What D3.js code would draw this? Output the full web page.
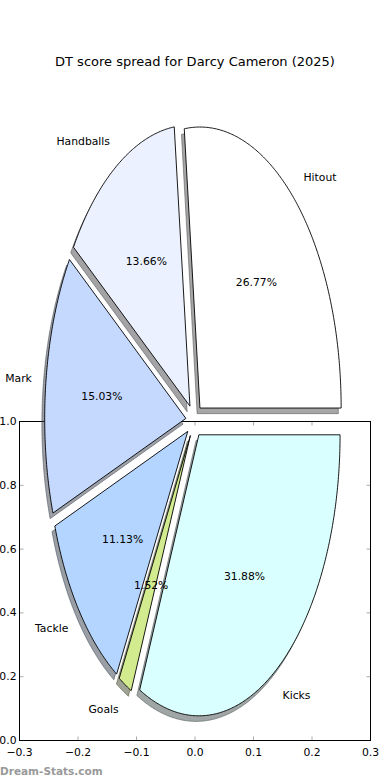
<!DOCTYPE html>
<html>
<head>
<meta charset="utf-8">
<script src="https://cdn.jsdelivr.net/npm/d3@7"></script>
<style>
  body { margin: 0; background: #fff; }
  text { font-family: "DejaVu Sans", sans-serif; }
</style>
</head>
<body>
<div id="box"></div>
<script>
// chart data
var categories = ["Hitout", "Handballs", "Mark", "Tackle", "Goals", "Kicks"];
var shares = [26.77, 13.66, 15.03, 11.13, 1.52, 31.88];
var colours = ["#ffffff", "#ebf1ff", "#c5d9ff", "#b4d5ff", "#d1eb8e", "#daffff"];
var xTicks = [-0.3, -0.2, -0.1, 0.0, 0.1, 0.2, 0.3];
var yTicks = [0.0, 0.2, 0.4, 0.6, 0.8, 1.0];

var W = 390, H = 780;
var svg = d3.select("#box").append("svg")
    .attr("width", W)
    .attr("height", H);

// the (empty) cartesian axes that sit behind the pie
var x = d3.scaleLinear().domain([-0.3, 0.3]).range([19.5, 370.5]);
var y = d3.scaleLinear().domain([0, 1]).range([740.5, 421.5]);

var ax = svg.append("g");
var tickCol = "#aaa";
xTicks.forEach(function(t) {
    ax.append("line").attr("x1", x(t)).attr("x2", x(t)).attr("y1", y(0)).attr("y2", y(0) - 4)
        .attr("stroke", tickCol);
    ax.append("line").attr("x1", x(t)).attr("x2", x(t)).attr("y1", y(1)).attr("y2", y(1) + 4)
        .attr("stroke", tickCol);
    ax.append("text").attr("x", x(t)).attr("y", y(0) + 12)
        .attr("text-anchor", "middle").attr("dominant-baseline", "central")
        .attr("font-size", 10.8).attr("fill", "#000")
        .text(d3.format(".1f")(t).replace("-", "\u2212"));
});
yTicks.forEach(function(t) {
    ax.append("line").attr("x1", x(-0.3)).attr("x2", x(-0.3) + 4).attr("y1", y(t)).attr("y2", y(t))
        .attr("stroke", tickCol);
    ax.append("line").attr("x1", x(0.3)).attr("x2", x(0.3) - 4).attr("y1", y(t)).attr("y2", y(t))
        .attr("stroke", tickCol);
    ax.append("text").attr("x", x(-0.3) - 3).attr("y", y(t))
        .attr("text-anchor", "end").attr("dominant-baseline", "central")
        .attr("font-size", 10.8).attr("fill", "#000")
        .text(d3.format(".1f")(t));
});
ax.append("rect")
    .attr("x", x(-0.3)).attr("y", y(1))
    .attr("width", x(0.3) - x(-0.3)).attr("height", y(0) - y(1))
    .attr("fill", "none").attr("stroke", "#000").attr("stroke-width", 1);

// pie, drawn in its own unit coordinates (stretched like the original)
var cx = 194.3, cy = 420.6, rx = 141.2, ry = 281;
var px = d3.scaleLinear().domain([-1, 1]).range([cx - rx, cx + rx]);
var py = d3.scaleLinear().domain([-1, 1]).range([cy + ry, cy - ry]);
var explode = 0.06;
var shadowOff = [-0.02, -0.02];

var total = d3.sum(shares);
var arcs = d3.pie().sort(null).startAngle(0).endAngle(2 * Math.PI)(shares);

var wedges = arcs.map(function(a, i) {
    var t0 = a.startAngle, t1 = a.endAngle, mid = (t0 + t1) / 2;
    var c = [explode * Math.cos(mid), explode * Math.sin(mid)];
    var pts = [c];
    var n = Math.max(4, Math.ceil((t1 - t0) / 0.01));
    for (var k = 0; k <= n; k++) {
        var t = t0 + (t1 - t0) * k / n;
        pts.push([c[0] + Math.cos(t), c[1] + Math.sin(t)]);
    }
    return { name: categories[i], value: shares[i], colour: colours[i], mid: mid, c: c, pts: pts };
});

var line = d3.line()
    .x(function(d) { return px(d[0]); })
    .y(function(d) { return py(d[1]); });

var shadowLine = d3.line()
    .x(function(d) { return px(d[0] + shadowOff[0]); })
    .y(function(d) { return py(d[1] + shadowOff[1]); });

function darker(col) {
    var c = d3.rgb(col);
    return d3.rgb(c.r * 0.3, c.g * 0.3, c.b * 0.3).toString();
}

// shadows underneath every wedge
svg.append("g").selectAll("path")
    .data(wedges)
    .enter()
    .append("path")
    .attr("d", function(d) { return shadowLine(d.pts) + "Z"; })
    .attr("fill", function(d) { return darker(d.colour); })
    .attr("fill-opacity", 0.5)
    .attr("stroke", function(d) { return darker(d.colour); })
    .attr("stroke-opacity", 0.5)
    .attr("stroke-width", 1);

svg.append("g").selectAll("path")
    .data(wedges)
    .enter()
    .append("path")
    .attr("d", function(d) { return line(d.pts) + "Z"; })
    .attr("fill", function(d) { return d.colour; })
    .attr("stroke", "#000")
    .attr("stroke-width", 0.9)
    .attr("stroke-linejoin", "miter");

// category labels
svg.append("g").selectAll("text")
    .data(wedges)
    .enter()
    .append("text")
    .attr("x", function(d) { return px(d.c[0] + 1.1 * Math.cos(d.mid)); })
    .attr("y", function(d) { return py(d.c[1] + 1.1 * Math.sin(d.mid)); })
    .attr("text-anchor", function(d) { return Math.cos(d.mid) > 0 ? "start" : "end"; })
    .attr("dominant-baseline", "central")
    .attr("font-size", 10.8)
    .attr("fill", "#000")
    .text(function(d) { return d.name; });

// percentage labels
svg.append("g").selectAll("text")
    .data(wedges)
    .enter()
    .append("text")
    .attr("x", function(d) { return px(d.c[0] + 0.6 * Math.cos(d.mid)); })
    .attr("y", function(d) { return py(d.c[1] + 0.6 * Math.sin(d.mid)); })
    .attr("text-anchor", "middle")
    .attr("dominant-baseline", "central")
    .attr("font-size", 10.8)
    .attr("fill", "#000")
    .text(function(d) { return (d.value / total * 100).toFixed(2) + "%"; });

svg.append("text")
    .attr("x", W / 2).attr("y", 61)
    .attr("text-anchor", "middle").attr("dominant-baseline", "central")
    .attr("font-size", 13).attr("fill", "#000")
    .text("DT score spread for Darcy Cameron (2025)");

svg.append("text")
    .attr("x", 0).attr("y", 771)
    .attr("dominant-baseline", "central")
    .attr("font-size", 10.5).attr("font-weight", "bold").attr("fill", "#999")
    .text("Dream-Stats.com");
</script>
</body>
</html>
